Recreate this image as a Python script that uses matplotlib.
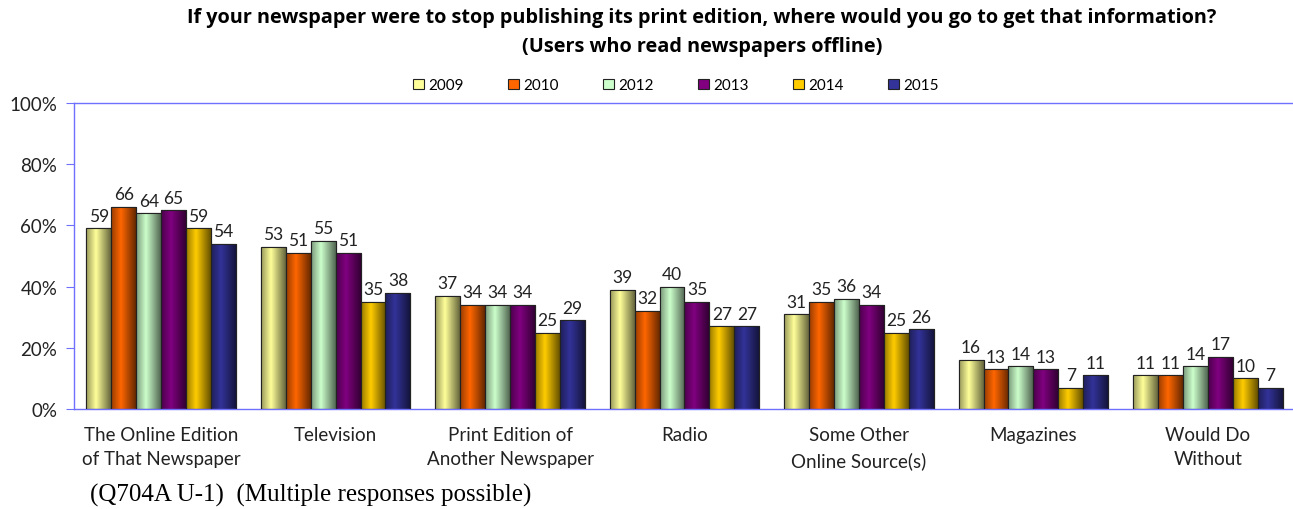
import numpy as np
import matplotlib.pyplot as plt
from matplotlib.colors import to_rgb

categories = ['The Online Edition\nof That Newspaper', 'Television',
              'Print Edition of\nAnother Newspaper', 'Radio',
              'Some Other\nOnline Source(s)', 'Magazines', 'Would Do\nWithout']
years = ['2009', '2010', '2012', '2013', '2014', '2015']
values = {
    '2009': [59, 53, 37, 39, 31, 16, 11],
    '2010': [66, 51, 34, 32, 35, 13, 11],
    '2012': [64, 55, 34, 40, 36, 14, 14],
    '2013': [65, 51, 34, 35, 34, 13, 17],
    '2014': [59, 35, 25, 27, 25, 7, 10],
    '2015': [54, 38, 29, 27, 26, 11, 7],
}
colors = ['#FFFF99', '#FF6600', '#CCFFCC', '#800080', '#FFCC00', '#333399']

plt.rcParams['font.family'] = ['Lato', 'DejaVu Sans']

fig = plt.figure(figsize=(12.93, 5.10), dpi=100)
ax = fig.add_axes([74 / 1293, 100 / 510, 1221 / 1293, 306 / 510])

x = np.arange(len(categories))
w = 1 / 7.0

# horizontal shading profile for the cylinder look
t = np.linspace(0, 1, 64)
shade = 1.0 - 0.6 * np.abs(t - 0.4) / 0.6
shade = np.clip(shade, 0.4, 1.0)

for i, yr in enumerate(years):
    pos = x - 3 * w + w / 2 + i * w
    bars = ax.bar(pos, values[yr], w, color=colors[i], edgecolor='#222222',
                  linewidth=0.8, zorder=2, label=yr)
    rgb = np.array(to_rgb(colors[i]))
    img = (shade[:, None] * rgb[None, :])[None, :, :]
    for b in bars:
        x0, h = b.get_x(), b.get_height()
        im = ax.imshow(img, extent=[x0, x0 + b.get_width(), 0, h],
                       aspect='auto', zorder=2.5, interpolation='bilinear')
        im.set_clip_path(b)
        ax.add_patch(plt.Rectangle((x0, 0), b.get_width(), h, fill=False,
                                   edgecolor='#222222', linewidth=0.8, zorder=3))
        ax.text(x0 + b.get_width() / 2, h + 1.5, '%d' % h, ha='center',
                va='bottom', fontsize=12.5, color='#222222', zorder=4)

ax.set_xlim(-0.5, len(categories) - 0.5)
ax.set_ylim(0, 100)
ax.set_yticks(range(0, 101, 20))
ax.set_yticklabels(['%d%%' % v for v in range(0, 101, 20)], fontsize=13.5, color='#222222')
ax.set_xticks(x)
ax.set_xticklabels(categories, fontsize=13.5, color='#222222', linespacing=1.55)
ax.tick_params(axis='x', length=0, pad=12)
ax.tick_params(axis='y', direction='out', length=6, color='#7070ff', pad=6)

for s in ['left', 'bottom', 'top']:
    ax.spines[s].set_color('#7070ff')
    ax.spines[s].set_linewidth(1.0)
ax.spines['right'].set_visible(False)

leg = ax.legend(loc='lower center', bbox_to_anchor=(602 / 1221, 0.99), ncol=6,
                frameon=False, fontsize=11, handlelength=0.7, handleheight=0.7,
                columnspacing=2.9, handletextpad=0.3)

tfont = ['Open Sans', 'DejaVu Sans']
fig.text(702 / 1293, 1 - 18 / 510,
         'If your newspaper were to stop publishing its print edition, where would you go to get that information?',
         ha='center', va='center', fontsize=14.3, fontweight='bold', family=tfont)
fig.text(702 / 1293, 1 - 47 / 510, '(Users who read newspapers offline)',
         ha='center', va='center', fontsize=14.3, fontweight='bold', family=tfont)
fig.text(90 / 1293, 1 - 495 / 510, '(Q704A U-1)  (Multiple responses possible)',
         ha='left', va='center', fontsize=18, family=['Liberation Serif', 'DejaVu Serif'])

fig.savefig('out.png', dpi=100)
